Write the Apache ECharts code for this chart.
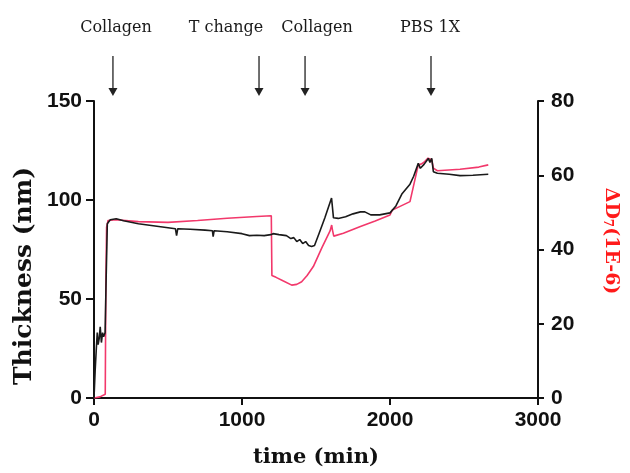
<!DOCTYPE html>
<html><head><meta charset="utf-8">
<script src="https://cdn.jsdelivr.net/npm/echarts@6/dist/echarts.min.js"></script>
<style>html,body{margin:0;padding:0;background:#fff}#c{width:630px;height:473px}</style>
</head><body><div id="c"></div>
<script>
// Thickness (nm), left axis
const thickTime = [0,8,15,22,28,35,42,50,58,65,75,82,90,110,150,200,300,400,500,550,558,566,650,750,800,805,812,900,1000,1050,1100,1150,1195,1210,1250,1300,1330,1350,1370,1390,1410,1430,1450,1470,1490,1520,1560,1605,1612,1618,1650,1700,1750,1800,1830,1870,1930,2000,2040,2080,2135,2160,2191,2205,2230,2259,2270,2282,2293,2320,2400,2473,2560,2664];
const thickVal  = [0,14,24,33,27,30,36,28,33,31,33,60,88,90,90.5,89.5,88,87,86,85.5,82,85.5,85.2,84.8,84.5,81.5,84.5,84,83,82,82.2,82,82.5,83,82.5,82,80.5,81,79,80,78,79,77,76.5,77,83,91,101,102,91,90.7,91.5,93,94,94,92.5,92.5,93.5,97,103,108,112,118.5,116,118,121,119,121,114.3,113.5,113,112.3,112.5,113];
// Dissipation ΔD7 (1E-6), right axis
const dissTime = [0,40,76,80,85,95,150,300,500,700,900,1100,1198,1202,1230,1280,1336,1370,1403,1440,1482,1540,1595,1606,1610,1620,1685,1800,1900,2000,2015,2135,2191,2210,2230,2257,2282,2293,2320,2473,2600,2664];
const dissVal  = [0,0.3,1,30,46,47.8,48,47.5,47.3,47.8,48.4,48.9,49.1,33,32.5,31.5,30.4,30.6,31.3,33,35.4,40.5,45,46.6,45.5,43.6,44.4,46.2,47.7,49.3,50.6,52.9,62.8,63,63.5,64.6,64.2,61.9,61.2,61.6,62.2,62.8];
// Annotations
const annotLabels = ['Collagen','T change','Collagen','PBS 1X'];
const annotArrowTime = [128,1115,1426,2277];
const annotLabelTime = [149,892,1507,2270];
const xTicks = [0,1000,2000,3000];
const yLeftTicks = [0,50,100,150];
const yRightTicks = [0,20,40,60,80];

const chart = echarts.init(document.getElementById('c'));
const tickFont = {fontFamily:'Liberation Sans, Arial', fontWeight:'bold', fontSize:21, color:'#111', formatter:(v)=>String(v)};
const axLine = {show:true, lineStyle:{color:'#111', width:2}};
chart.setOption({
  animation:false,
  backgroundColor:'#fff',
  grid:{left:94, right:92, top:101, bottom:75, containLabel:false},
  xAxis:{type:'value', min:xTicks[0], max:xTicks[xTicks.length-1], interval:1000,
    axisLine:axLine, axisTick:{show:true, length:7, lineStyle:{color:'#111', width:2}},
    splitLine:{show:false}, axisLabel:Object.assign({margin:12}, tickFont)},
  yAxis:[
    {type:'value', position:'left', min:yLeftTicks[0], max:yLeftTicks[yLeftTicks.length-1], interval:50,
      axisLine:axLine, axisTick:{show:true, length:8, lineStyle:{color:'#111', width:2}},
      splitLine:{show:false}, axisLabel:Object.assign({margin:12}, tickFont)},
    {type:'value', position:'right', min:yRightTicks[0], max:yRightTicks[yRightTicks.length-1], interval:20,
      axisLine:axLine, axisTick:{show:true, length:6, lineStyle:{color:'#111', width:2}},
      splitLine:{show:false}, axisLabel:Object.assign({margin:13}, tickFont)}
  ],
  series:[
    {type:'line', yAxisIndex:1, showSymbol:false, data:dissTime.map((t,i)=>[t,dissVal[i]]),
      lineStyle:{color:'#f2386b', width:1.6}, itemStyle:{color:'#f2386b'}, z:2},
    {type:'line', yAxisIndex:0, showSymbol:false, data:thickTime.map((t,i)=>[t,thickVal[i]]),
      lineStyle:{color:'#1a1a1a', width:1.6}, itemStyle:{color:'#1a1a1a'}, z:3}
  ]
});

const g = [];
const serif = 'DejaVu Serif, Liberation Serif, serif';
annotLabels.forEach((lab,i)=>{
  const ax = chart.convertToPixel({xAxisIndex:0}, annotArrowTime[i]);
  const lx = chart.convertToPixel({xAxisIndex:0}, annotLabelTime[i]);
  g.push({type:'text', x:lx, y:28, style:{text:lab, font:'16px '+serif, fill:'#1a1a1a', textAlign:'center', textVerticalAlign:'middle'}});
  g.push({type:'line', shape:{x1:ax, y1:56, x2:ax, y2:89}, style:{stroke:'#222', lineWidth:1.3}});
  g.push({type:'polygon', shape:{points:[[ax-4.5,88],[ax+4.5,88],[ax,96]]}, style:{fill:'#222'}});
});
g.push({type:'text', x:24, y:276, rotation:Math.PI/2, style:{text:'Thickness (nm)', font:'bold 25px '+serif, fill:'#111', textAlign:'center', textVerticalAlign:'middle'}});
g.push({type:'text', x:316, y:458, style:{text:'time (min)', font:'bold 21px '+serif, fill:'#111', textAlign:'center', textVerticalAlign:'middle'}});
g.push({type:'text', x:611, y:241, rotation:-Math.PI/2, style:{
  text:'{a|ΔD}{s|7}{a|(1E-6)}', textAlign:'center', textVerticalAlign:'middle',
  rich:{a:{font:'bold 19px '+serif, fill:'#ff1a1a'}, s:{font:'bold 12px '+serif, fill:'#ff1a1a', padding:[8,0,0,0]}}}});
chart.setOption({graphic:g});
</script></body></html>
